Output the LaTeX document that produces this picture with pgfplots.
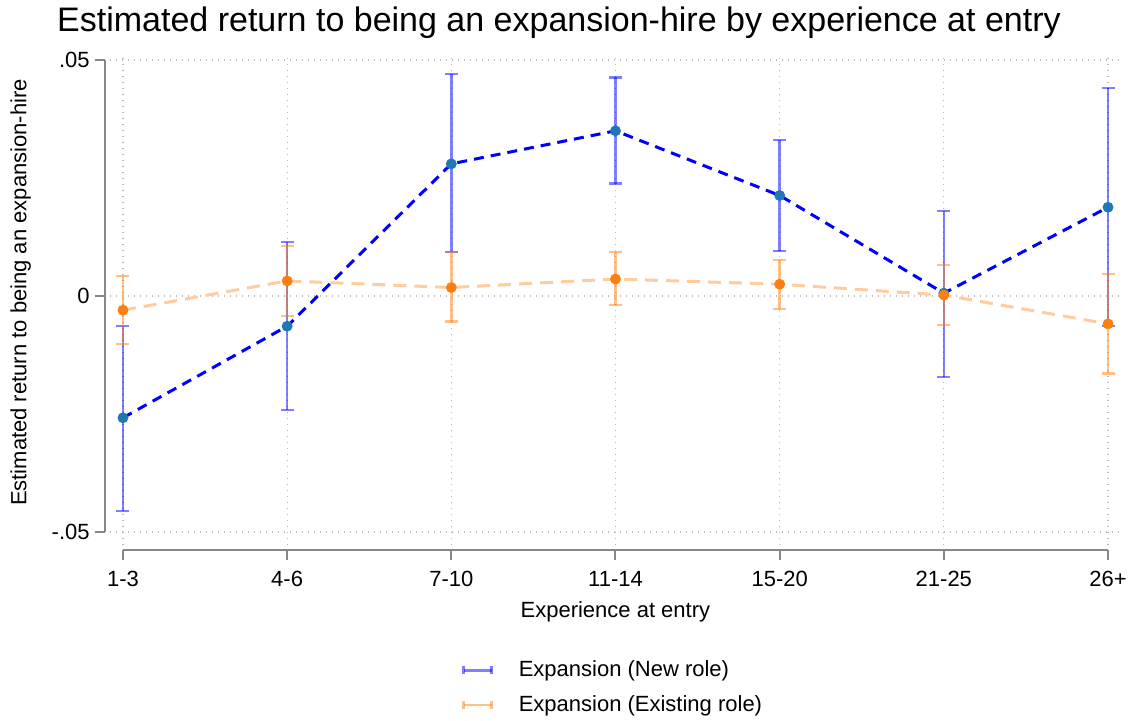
\documentclass[border=0pt]{standalone}
\usepackage{pgfplots}
\usepackage{pgfplotstable}
\pgfplotsset{compat=1.18}
\usepackage{fontspec}
\setmainfont{Liberation Sans}

\definecolor{ciblue}{RGB}{0,0,255}
\definecolor{ptblue}{RGB}{31,119,180}
\definecolor{ptorange}{RGB}{255,127,14}
\definecolor{lnorange}{RGB}{255,204,158}
\definecolor{axgray}{RGB}{135,135,135}
\definecolor{gridgray}{RGB}{185,185,185}

% point estimate with lower and upper bound of the confidence interval
\pgfplotstableread{
x y lo hi
0 -0.0258 -0.0455 -0.0064
1 -0.0064 -0.0242 0.0115
2 0.0280 0.0093 0.0470
3 0.0350 0.0238 0.0463
4 0.0213 0.0096 0.0331
5 0.0006 -0.0172 0.0180
6 0.0188 -0.0063 0.0441
}\newrole

\pgfplotstableread{
x y lo hi
0 -0.0030 -0.0102 0.0042
1 0.0032 -0.0042 0.0106
2 0.0018 -0.0054 0.0093
3 0.0036 -0.0019 0.0093
4 0.0025 -0.0027 0.0076
5 0.0002 -0.0061 0.0066
6 -0.0059 -0.0164 0.0047
}\existingrole

\newcommand{\xmn}{-0.079}
\newcommand{\xmx}{6.073}
\newcommand{\ymn}{-0.05275}
\newcommand{\ymx}{0.05106}

\begin{document}
\begin{tikzpicture}
\path[use as bounding box] (0,0) rectangle (566pt,360pt);
\node[anchor=base, inner sep=0pt, font=\fontsize{17}{20}\selectfont] at (279.5pt,344.15pt)
  {Estimated return to being an expansion-hire by experience at entry};
\begin{axis}[
  at={(55pt,87.5pt)}, anchor=south west,
  scale only axis, width=505pt, height=245pt,
  xmin=\xmn, xmax=\xmx, ymin=\ymn, ymax=\ymx,
  clip=false,
  scaled y ticks=false,
  axis line style={draw=none},
  major tick length=0pt,
  tick style={draw=none},
  xtick={0,1,2,3,4,5,6},
  xticklabels={1-3,4-6,7-10,11-14,15-20,21-25,26+},
  ytick={-0.05,0,0.05},
  yticklabels={-.05,0,.05},
  ticklabel style={font=\fontsize{11}{13}\selectfont},
  xticklabel style={anchor=north, inner sep=0pt, yshift=-13pt},
  yticklabel style={anchor=east, inner sep=0pt, xshift=-10pt},
  xmajorgrids, ymajorgrids,
  grid style={gridgray, line width=0.6pt, dash pattern=on 0.6pt off 2.4pt},
  xlabel={Experience at entry},
  xlabel style={font=\fontsize{11}{13}\selectfont, at={(axis description cs:0.5004,-0.148)}, anchor=base, inner sep=0pt},
  ylabel={Estimated return to being an expansion-hire},
  ylabel style={font=\fontsize{11}{13}\selectfont, at={(axis description cs:-0.0827,0.5153)}, anchor=base, rotate=0, inner sep=0pt},
  legend style={at={(axis description cs:0.3485,-0.2275)}, anchor=north west,
    draw=none, fill=none, inner sep=0pt, row sep=4pt, column sep=11pt,
    font=\fontsize{11}{13}\selectfont,
    cells={anchor=west}},
]

% confidence intervals
\addplot[draw=none, mark=none,
  legend image code/.code={
    \draw[ciblue, opacity=0.5, line width=1.2pt] (0pt,0pt) -- (14pt,0pt);
    \draw[ciblue, opacity=0.5, line width=1.2pt] (0pt,-2pt) -- (0pt,2pt);
    \draw[ciblue, opacity=0.5, line width=1.2pt] (14pt,-2pt) -- (14pt,2pt);
  },
  error bars/.cd, y dir=both, y explicit,
  error bar style={ciblue, opacity=0.5, line width=1.2pt},
  error mark options={rotate=90, ciblue, opacity=0.5, line width=1.2pt, mark size=3.25pt}]
  table[x=x, y=y, y error plus expr=\thisrow{hi}-\thisrow{y}, y error minus expr=\thisrow{y}-\thisrow{lo}] {\newrole};
\addlegendentry{Expansion (New role)}

\addplot[draw=none, mark=none,
  legend image code/.code={
    \draw[ptorange, opacity=0.5, line width=1.2pt] (0pt,0pt) -- (14pt,0pt);
    \draw[ptorange, opacity=0.5, line width=1.2pt] (0pt,-2pt) -- (0pt,2pt);
    \draw[ptorange, opacity=0.5, line width=1.2pt] (14pt,-2pt) -- (14pt,2pt);
  },
  error bars/.cd, y dir=both, y explicit,
  error bar style={ptorange, opacity=0.5, line width=1.2pt},
  error mark options={rotate=90, ptorange, opacity=0.5, line width=1.2pt, mark size=3.25pt}]
  table[x=x, y=y, y error plus expr=\thisrow{hi}-\thisrow{y}, y error minus expr=\thisrow{y}-\thisrow{lo}] {\existingrole};
\addlegendentry{Expansion (Existing role)}

% connecting lines
\addplot[forget plot, lnorange, line width=1.5pt, dash pattern=on 6.5pt off 4pt, mark=none]
  table[x=x, y=y] {\existingrole};
\addplot[forget plot, ciblue, line width=1.5pt, dash pattern=on 5pt off 3.5pt, mark=none]
  table[x=x, y=y] {\newrole};

% point estimates
\addplot[forget plot, only marks, mark=*, mark size=2.5pt, ptblue, mark options={draw=ptblue, fill=ptblue}]
  table[x=x, y=y] {\newrole};
\addplot[forget plot, only marks, mark=*, mark size=2.5pt, ptorange, mark options={draw=ptorange, fill=ptorange}]
  table[x=x, y=y] {\existingrole};

% detached axis lines with outward ticks
\draw[axgray, line width=1pt] ([xshift=-2.5pt]axis cs:\xmn,-0.05) -- ([xshift=-2.5pt]axis cs:\xmn,0.05);
\pgfplotsinvokeforeach{-0.05,0,0.05}{
  \draw[axgray, line width=1pt] ([xshift=-2.5pt]axis cs:\xmn,#1) -- ++(-5pt,0pt);
}
\draw[axgray, line width=1pt] ([yshift=-2.5pt]axis cs:0,\ymn) -- ([yshift=-2.5pt]axis cs:6,\ymn);
\pgfplotsinvokeforeach{0,1,2,3,4,5,6}{
  \draw[axgray, line width=1pt] ([yshift=-2.5pt]axis cs:#1,\ymn) -- ++(0pt,-5pt);
}
\end{axis}
\end{tikzpicture}
\end{document}
